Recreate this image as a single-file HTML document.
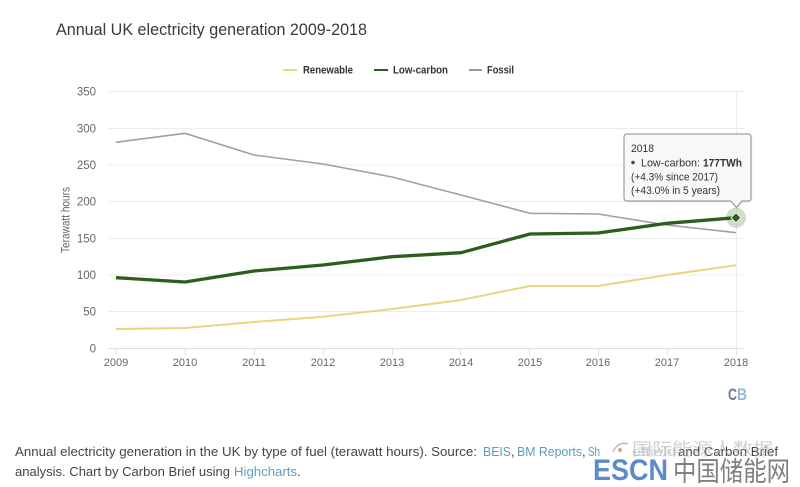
<!DOCTYPE html>
<html>
<head>
<meta charset="utf-8">
<style>
html,body{margin:0;padding:0;background:#fff;}
svg{display:block;}
text{font-family:"Liberation Sans","Noto Sans CJK SC",sans-serif;}
</style>
</head>
<body>
<svg width="800" height="487" viewBox="0 0 800 487" xmlns="http://www.w3.org/2000/svg">
  <rect width="800" height="487" fill="#fff"/>
  <!-- Title -->
  <text x="56" y="35" font-size="17" fill="#3a3a3a" textLength="311" lengthAdjust="spacingAndGlyphs">Annual UK electricity generation 2009-2018</text>

  <!-- Legend -->
  <line x1="283" y1="70" x2="297" y2="70" stroke="#e6d67c" stroke-width="2"/>
  <text x="303" y="73.5" font-size="11" font-weight="bold" fill="#333" textLength="50" lengthAdjust="spacingAndGlyphs">Renewable</text>
  <line x1="374" y1="70" x2="388" y2="70" stroke="#2e5e1e" stroke-width="2"/>
  <text x="393" y="73.5" font-size="11" font-weight="bold" fill="#333" textLength="55" lengthAdjust="spacingAndGlyphs">Low-carbon</text>
  <line x1="469" y1="70" x2="482" y2="70" stroke="#999" stroke-width="2"/>
  <text x="487" y="73.5" font-size="11" font-weight="bold" fill="#333" textLength="27" lengthAdjust="spacingAndGlyphs">Fossil</text>

  <!-- Gridlines -->
  <g stroke="#ececec" stroke-width="1">
    <line x1="108" y1="91.5" x2="744" y2="91.5"/>
    <line x1="108" y1="128.5" x2="744" y2="128.5"/>
    <line x1="108" y1="165" x2="744" y2="165"/>
    <line x1="108" y1="201.5" x2="744" y2="201.5"/>
    <line x1="108" y1="238.5" x2="744" y2="238.5"/>
    <line x1="108" y1="275" x2="744" y2="275"/>
    <line x1="108" y1="311.5" x2="744" y2="311.5"/>
  </g>
  <line x1="108" y1="348.5" x2="744" y2="348.5" stroke="#e0e0e0" stroke-width="1"/>
  <!-- crosshair -->
  <line x1="736.5" y1="91" x2="736.5" y2="348" stroke="#ececec" stroke-width="1"/>
  <!-- ticks -->
  <g stroke="#e0e0e0" stroke-width="1">
    <line x1="116.5" y1="348" x2="116.5" y2="355"/>
    <line x1="185.5" y1="348" x2="185.5" y2="355"/>
    <line x1="254.5" y1="348" x2="254.5" y2="355"/>
    <line x1="323.5" y1="348" x2="323.5" y2="355"/>
    <line x1="392.5" y1="348" x2="392.5" y2="355"/>
    <line x1="460.5" y1="348" x2="460.5" y2="355"/>
    <line x1="529.5" y1="348" x2="529.5" y2="355"/>
    <line x1="598.5" y1="348" x2="598.5" y2="355"/>
    <line x1="667.5" y1="348" x2="667.5" y2="355"/>
    <line x1="736.5" y1="348" x2="736.5" y2="355"/>
  </g>

  <!-- Y labels -->
  <g font-size="11.5" fill="#666" text-anchor="end">
    <text x="96" y="95.5">350</text>
    <text x="96" y="132.5">300</text>
    <text x="96" y="169">250</text>
    <text x="96" y="205.5">200</text>
    <text x="96" y="242.5">150</text>
    <text x="96" y="279">100</text>
    <text x="96" y="315.5">50</text>
    <text x="96" y="352.5">0</text>
  </g>
  <text transform="translate(69.5,220) rotate(-90)" font-size="11.5" fill="#666" text-anchor="middle" textLength="66" lengthAdjust="spacingAndGlyphs">Terawatt hours</text>

  <!-- X labels -->
  <g font-size="11" fill="#666" text-anchor="middle">
    <text x="116" y="366">2009</text>
    <text x="185" y="366">2010</text>
    <text x="254" y="366">2011</text>
    <text x="323" y="366">2012</text>
    <text x="392" y="366">2013</text>
    <text x="461" y="366">2014</text>
    <text x="530" y="366">2015</text>
    <text x="598" y="366">2016</text>
    <text x="667" y="366">2017</text>
    <text x="736" y="366">2018</text>
  </g>

  <!-- Series -->
  <polyline fill="none" stroke="#e6d67c" stroke-width="2" stroke-linejoin="round"
    points="116,329 185,328 254,322 323,316.7 392,309 461,300 530,286 598,286 667,275 736,265.3"/>
  <polyline fill="none" stroke="#a0a0a0" stroke-width="1.6" stroke-linejoin="round"
    points="116,142.3 185,133.3 254,155 323,164 392,177 461,195 530,213.3 598,214 667,225 736,232.7"/>
  <polyline fill="none" stroke="#2e5e1e" stroke-width="3.3" stroke-linejoin="round"
    points="116,277.7 185,282 254,271 323,265 392,256.7 461,252.7 530,234 598,233 667,223.3 736,217.7"/>

  <!-- hover marker -->
  <circle cx="736" cy="217.7" r="10" fill="#2e5e1e" fill-opacity="0.22"/>
  <path d="M736 212.7 L741 217.7 L736 222.7 L731 217.7 Z" fill="#2e5e1e" stroke="#fff" stroke-width="0.8"/>

  <!-- Tooltip -->
  <path d="M627 135 H748 Q751 135 751 138 V198 Q751 201 748 201 H742 L736.3 207.5 L731 201 H627 Q624 201 624 198 V138 Q624 135 627 135 Z"
    fill="#000" fill-opacity="0.06" transform="translate(1.5,1.5)"/>
  <path d="M627 134 H748 Q751 134 751 137 V198 Q751 201 748 201 H742 L736.3 207.5 L731 201 H627 Q624 201 624 198 V137 Q624 134 627 134 Z"
    fill="#f8f8f8" fill-opacity="0.92" stroke="#8c8c8c" stroke-width="1"/>
  <text x="631" y="152" font-size="11" fill="#333" textLength="23" lengthAdjust="spacingAndGlyphs">2018</text>
  <circle cx="633" cy="162.5" r="1.8" fill="#2e5e1e"/>
  <text x="641" y="166.5" font-size="11" fill="#333" textLength="59" lengthAdjust="spacingAndGlyphs">Low-carbon:</text>
  <text x="703" y="166.5" font-size="11" font-weight="bold" fill="#333" textLength="39" lengthAdjust="spacingAndGlyphs">177TWh</text>
  <text x="631" y="180.5" font-size="11" fill="#333" textLength="87" lengthAdjust="spacingAndGlyphs">(+4.3% since 2017)</text>
  <text x="631" y="194" font-size="11" fill="#333" textLength="89" lengthAdjust="spacingAndGlyphs">(+43.0% in 5 years)</text>

  <!-- CB logo -->
  <text x="728" y="400" font-size="17" font-weight="bold" fill="#6c7c8c" textLength="9" lengthAdjust="spacingAndGlyphs">C</text>
  <text x="737" y="400" font-size="17" font-weight="bold" fill="#8fb8dc" textLength="10" lengthAdjust="spacingAndGlyphs">B</text>

  <!-- Caption -->
  <text x="15" y="456" font-size="13" fill="#444" textLength="462" lengthAdjust="spacingAndGlyphs">Annual electricity generation in the UK by type of fuel (terawatt hours). Source:</text>
  <text x="483" y="456" font-size="13" fill="#5e9dbd" textLength="28" lengthAdjust="spacingAndGlyphs">BEIS</text>
  <text x="511" y="456" font-size="13" fill="#444">,</text>
  <text x="517" y="456" font-size="13" fill="#5e9dbd" textLength="65" lengthAdjust="spacingAndGlyphs">BM Reports</text>
  <text x="582" y="456" font-size="13" fill="#444">,</text>
  <text x="588" y="456" font-size="13" fill="#5e9dbd" textLength="12" lengthAdjust="spacingAndGlyphs">Sh</text>
  <text x="632" y="456" font-size="13" fill="#9ab8cc" fill-opacity="0.6" textLength="44" lengthAdjust="spacingAndGlyphs">effield</text>
  <text x="678" y="456" font-size="13" fill="#444" textLength="100" lengthAdjust="spacingAndGlyphs">and Carbon Brief</text>
  <!-- faint watermark -->
  <text x="632" y="455" font-size="17" fill="#aaa" fill-opacity="0.55" textLength="141" lengthAdjust="spacingAndGlyphs">国际能源人数据</text>
  <path d="M613 452 Q618 441 628 444" fill="none" stroke="#bbb" stroke-width="1.5"/>
  <circle cx="620" cy="450" r="2" fill="#e05050" fill-opacity="0.6"/>

  <text x="15" y="476" font-size="13" fill="#444" textLength="215" lengthAdjust="spacingAndGlyphs">analysis. Chart by Carbon Brief using</text>
  <text x="234" y="476" font-size="13" fill="#5e9dbd" textLength="63" lengthAdjust="spacingAndGlyphs">Highcharts</text>
  <text x="297" y="476" font-size="13" fill="#444">.</text>

  <!-- ESCN watermark -->
  <text x="593" y="480" font-size="30" font-weight="bold" fill="#5b8cc8" textLength="75" lengthAdjust="spacingAndGlyphs">ESCN</text>
  <text x="673" y="481" font-size="27" fill="#808080" textLength="117" lengthAdjust="spacingAndGlyphs">中国储能网</text>
</svg>
</body>
</html>
